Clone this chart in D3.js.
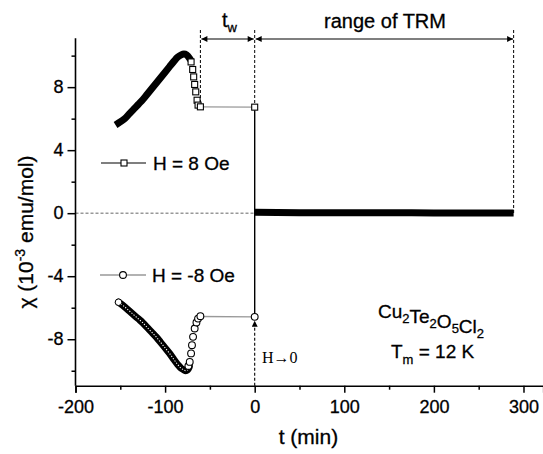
<!DOCTYPE html>
<html><head><meta charset="utf-8">
<script src="https://cdn.jsdelivr.net/npm/d3@7"></script>
<style>body{margin:0;background:#fff}svg{display:block}</style>
</head><body><svg id="c" width="543" height="454" font-family="Liberation Sans, Arial, sans-serif"></svg>
<script>
// ---- data ----
const xTicks = [-200, -100, 0, 100, 200, 300];
const xMinor = [-150, -50, 50, 150, 250];
const yTicks = [-8, -4, 0, 4, 8];
const yMinor = [-10, -6, -2, 2, 6, 10];
// H = 8 Oe, dense (solid) part
const posDenseT = [-152, -145, -140, -135, -130, -125, -120, -115, -110, -105, -100, -95, -90, -86, -82, -79, -76, -73];
const posDenseX = [5.72, 6.0, 6.3, 6.6, 6.9, 7.2, 7.55, 7.9, 8.25, 8.6, 8.95, 9.3, 9.65, 9.9, 10.05, 10.1, 10.05, 9.85];
// H = 8 Oe, sparse open squares
const posOpenT = [-71, -69.2, -68.1, -67, -65.8, -64.3, -63.2, -60.6];
const posOpenX = [9.6, 9.12, 8.65, 8.17, 7.7, 7.17, 6.86, 6.75];
const posHoldT = [-60.6, 0];
const posHoldX = [6.75, 6.73];
// H = -8 Oe, dense part
const negDenseT = [-152, -145, -140, -135, -130, -125, -120, -115, -110, -105, -100, -95, -90, -86, -82, -79, -77, -75, -73];
const negDenseX = [-5.65, -5.95, -6.2, -6.45, -6.7, -6.95, -7.25, -7.55, -7.85, -8.2, -8.55, -8.9, -9.3, -9.6, -9.85, -9.95, -10.0, -9.95, -9.75];
// H = -8 Oe, sparse open circles
const negOpenT = [-74, -72.5, -71, -70, -68.8, -67, -65, -63.2, -60.6];
const negOpenX = [-9.7, -9.44, -8.9, -8.38, -7.85, -7.32, -6.94, -6.69, -6.54];
const negHoldT = [-60.6, 0];
const negHoldX = [-6.56, -6.58];
// TRM after field switched off
const trmT = [0, 25, 50, 75, 100, 125, 150, 175, 200, 225, 250, 275, 289];
const trmX = [0.06, 0.04, 0.03, 0.03, 0.02, 0.02, 0.02, 0.02, 0.01, 0.01, 0.01, 0.01, 0.01];
const tw = -60.6, trmEnd = 289;

// ---- chart ----
const svg = d3.select("#c");
const x = d3.scaleLinear().domain([-200, 322]).range([75.5, 543.2]);
const y = d3.scaleLinear().domain([-10.95, 11.1]).range([385.7, 38.3]);
const zip = (a, b) => a.map((v, i) => [v, b[i]]);
const line = d3.line().x(d => x(d[0])).y(d => y(d[1]));
const smooth = d3.line().x(d => x(d[0])).y(d => y(d[1])).curve(d3.curveCatmullRom);
const txtStyle = s => s.attr("fill", "#000").attr("stroke", "#000").attr("stroke-width", 0.3);

const defs = svg.append("defs");
defs.append("marker").attr("id", "ah").attr("viewBox", "0 0 10 10").attr("refX", 10).attr("refY", 5)
  .attr("markerWidth", 7).attr("markerHeight", 6).attr("markerUnits", "userSpaceOnUse").attr("orient", "auto-start-reverse")
  .append("path").attr("d", "M0,0L10,5L0,10z").attr("fill", "#000");

// zero line
svg.append("line").attr("x1", x(-200)).attr("x2", x(0)).attr("y1", y(0)).attr("y2", y(0))
  .attr("stroke", "#555").attr("stroke-width", 0.9).attr("stroke-dasharray", "3,2");

// axes
const fmt = d => String(d);
const xa = svg.append("g").attr("transform", `translate(0,${y(-10.95)})`)
  .call(d3.axisBottom(x).tickValues(xTicks).tickSize(7).tickPadding(8).tickFormat(fmt));
const xm = svg.append("g").attr("transform", `translate(0,${y(-10.95)})`)
  .call(d3.axisBottom(x).tickValues(xMinor).tickSize(4).tickFormat(""));
const ya = svg.append("g").attr("transform", `translate(${x(-200)},0)`)
  .call(d3.axisLeft(y).tickValues(yTicks).tickSize(8).tickPadding(4).tickFormat(fmt));
const ym = svg.append("g").attr("transform", `translate(${x(-200)},0)`)
  .call(d3.axisLeft(y).tickValues(yMinor).tickSize(4).tickFormat(""));
[xa, xm, ya, ym].forEach(g => {
  g.attr("font-family", null).attr("font-size", null);
  g.select(".domain").attr("stroke", "#000").attr("stroke-width", 1.6);
  g.selectAll(".tick line").attr("stroke", "#000").attr("stroke-width", 1.5);
  g.selectAll("text").attr("font-size", 18).call(txtStyle);
});
xm.select(".domain").remove(); ym.select(".domain").remove();
ya.selectAll(".domain").attr("d", `M0,${y(-10.95)}V${y(11.1)}`);

// dashed guides
const topY = 30;
[[tw, posHoldX[0]], [0, posHoldX[1]]].forEach(([t, v]) => {
  svg.append("line").attr("x1", x(t)).attr("x2", x(t)).attr("y1", topY).attr("y2", y(v) - 3)
    .attr("stroke", "#000").attr("stroke-width", 1).attr("stroke-dasharray", "3,2");
});
svg.append("line").attr("x1", x(trmEnd)).attr("x2", x(trmEnd)).attr("y1", topY).attr("y2", y(0))
  .attr("stroke", "#000").attr("stroke-width", 1).attr("stroke-dasharray", "3,2");
// up arrow H->0
svg.append("line").attr("x1", x(0)).attr("x2", x(0)).attr("y1", y(-10.95)).attr("y2", y(negHoldX[1]) + 4)
  .attr("stroke", "#000").attr("stroke-width", 1.1).attr("stroke-dasharray", "3,2").attr("marker-end", "url(#ah)");
// solid vertical at t=0
svg.append("line").attr("x1", x(0)).attr("x2", x(0)).attr("y1", y(posHoldX[1]) + 3).attr("y2", y(negHoldX[1]) - 3.5)
  .attr("stroke", "#000").attr("stroke-width", 1.4);

// top arrows
const arrowY = 39;
svg.append("line").attr("x1", x(tw) + 1).attr("x2", x(0) - 1).attr("y1", arrowY).attr("y2", arrowY)
  .attr("stroke", "#000").attr("stroke-width", 1.1).attr("marker-start", "url(#ah)").attr("marker-end", "url(#ah)");
svg.append("line").attr("x1", x(0) + 1).attr("x2", x(trmEnd) - 0.5).attr("y1", arrowY).attr("y2", arrowY)
  .attr("stroke", "#000").attr("stroke-width", 1.1).attr("marker-start", "url(#ah)").attr("marker-end", "url(#ah)");

// hold lines (grey)
svg.append("path").attr("d", line(zip(posHoldT, posHoldX))).attr("fill", "none").attr("stroke", "#999").attr("stroke-width", 1.4);
svg.append("path").attr("d", line(zip(negHoldT, negHoldX))).attr("fill", "none").attr("stroke", "#999").attr("stroke-width", 1.4);

// H=8 dense
svg.append("path").attr("d", smooth(zip(posDenseT, posDenseX))).attr("fill", "none")
  .attr("stroke", "#000").attr("stroke-width", 7).attr("stroke-linecap", "square");
// H=-8 dense
svg.append("path").attr("d", smooth(zip(negDenseT, negDenseX))).attr("fill", "none")
  .attr("stroke", "#000").attr("stroke-width", 7).attr("stroke-linecap", "round");
svg.append("path").attr("d", smooth(zip(negDenseT, negDenseX))).attr("fill", "none")
  .attr("stroke", "#fff").attr("stroke-width", 1.1).attr("stroke-dasharray", "1.2,1.6");
svg.append("circle").attr("cx", x(negDenseT[0])).attr("cy", y(negDenseX[0])).attr("r", 3.3)
  .attr("fill", "#fff").attr("stroke", "#000").attr("stroke-width", 1);

// markers
const sq = 6;
svg.selectAll(".sq").data(zip(posOpenT, posOpenX).concat([[posHoldT[1], posHoldX[1]]])).join("rect")
  .attr("x", d => x(d[0]) - sq / 2).attr("y", d => y(d[1]) - sq / 2).attr("width", sq).attr("height", sq)
  .attr("fill", "#fff").attr("stroke", "#000").attr("stroke-width", 1.1);
svg.selectAll(".ci").data(zip(negOpenT, negOpenX).concat([[negHoldT[1], negHoldX[1]]])).join("circle")
  .attr("cx", d => x(d[0])).attr("cy", d => y(d[1])).attr("r", 3.4)
  .attr("fill", "#fff").attr("stroke", "#000").attr("stroke-width", 1.1);

// TRM
svg.append("path").attr("d", line(zip(trmT, trmX))).attr("fill", "none")
  .attr("stroke", "#000").attr("stroke-width", 7);

// legend
svg.append("line").attr("x1", 101).attr("x2", 146).attr("y1", 163).attr("y2", 163).attr("stroke", "#000").attr("stroke-width", 1.2);
svg.append("rect").attr("x", 124 - sq / 2).attr("y", 163 - sq / 2).attr("width", sq).attr("height", sq)
  .attr("fill", "#fff").attr("stroke", "#000").attr("stroke-width", 1.1);
svg.append("text").attr("x", 153).attr("y", 169.5).attr("font-size", 19).call(txtStyle).text("H = 8 Oe");
svg.append("line").attr("x1", 100).attr("x2", 146).attr("y1", 275).attr("y2", 275).attr("stroke", "#999").attr("stroke-width", 1.4);
svg.append("circle").attr("cx", 123).attr("cy", 275).attr("r", 3.4).attr("fill", "#fff").attr("stroke", "#000").attr("stroke-width", 1.1);
svg.append("text").attr("x", 152).attr("y", 282).attr("font-size", 19).call(txtStyle).text("H = -8 Oe");

// annotations
const tt = svg.append("text").attr("x", 222).attr("y", 27).attr("font-size", 20).call(txtStyle);
tt.append("tspan").text("t");
tt.append("tspan").attr("font-size", 13).attr("dy", 5).text("w");
svg.append("text").attr("x", 385).attr("y", 28).attr("font-size", 20).attr("text-anchor", "middle").call(txtStyle).text("range of TRM");

const f = svg.append("text").attr("x", 378).attr("y", 318).attr("font-size", 19).call(txtStyle);
[["Cu", "2"], ["Te", "2"], ["O", "5"], ["Cl", "2"]].forEach(([a, b]) => {
  f.append("tspan").text(a);
  f.append("tspan").attr("font-size", 13).attr("dy", 5).text(b);
  f.append("tspan").attr("dy", -5).text("");
});
const tm = svg.append("text").attr("x", 391).attr("y", 358).attr("font-size", 19).call(txtStyle);
tm.append("tspan").text("T");
tm.append("tspan").attr("font-size", 13).attr("dy", 6).text("m");
tm.append("tspan").attr("dy", -6).text(" = 12 K");

svg.append("text").attr("x", 262).attr("y", 363).attr("font-size", 16)
  .attr("font-family", "Liberation Serif, Times New Roman, serif").attr("fill", "#000").text("H\u21920");

// axis titles
svg.append("text").attr("x", x(60)).attr("y", 444).attr("font-size", 21).attr("text-anchor", "middle").call(txtStyle).text("t (min)");
const yt = svg.append("text").attr("transform", "translate(33,232) rotate(-90)").attr("font-size", 21).attr("text-anchor", "middle").call(txtStyle);
yt.append("tspan").text("\u03C7 (10");
yt.append("tspan").attr("font-size", 14).attr("dy", -8).text("-3");
yt.append("tspan").attr("dy", 8).text(" emu/mol)");
</script></body></html>
